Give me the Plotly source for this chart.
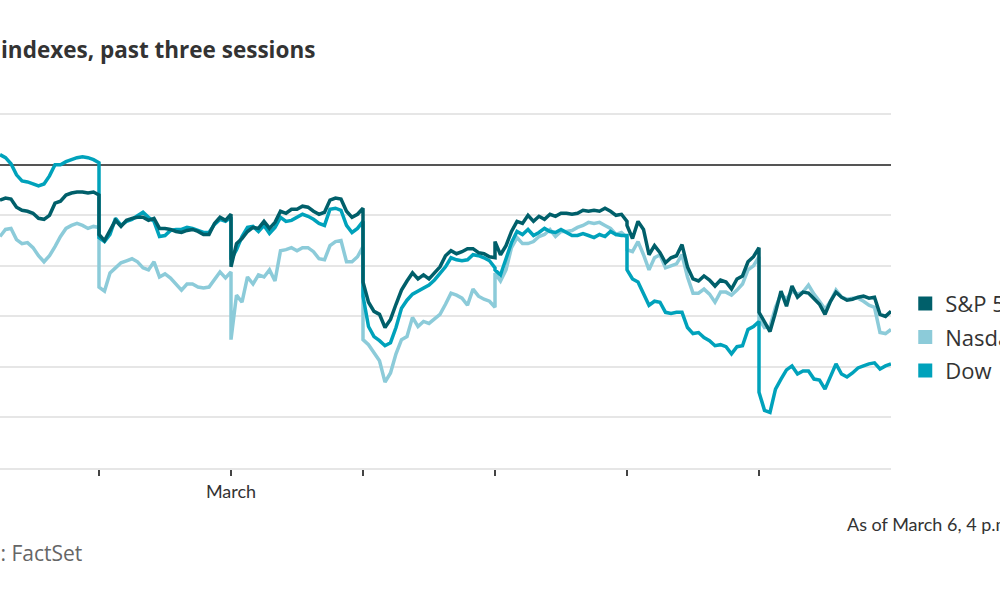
import numpy as np
import plotly.graph_objects as go

# Percent change. First list = tail of the session before the
# first visible tick (last 3/4 of it), then six full sessions (open ... close).
sp_sessions = [
    [-0.35, -0.33, -0.34, -0.42, -0.45, -0.46, -0.48, -0.53, -0.54, -0.50, -0.38, -0.36, -0.30, -0.28, -0.27, -0.27, -0.28, -0.27, -0.30],
    [-0.69, -0.75, -0.65, -0.55, -0.61, -0.55, -0.53, -0.52, -0.52, -0.55, -0.53, -0.63, -0.63, -0.64, -0.66, -0.67, -0.65, -0.64, -0.66, -0.69, -0.69, -0.58, -0.52, -0.55, -0.49],
    [-1.01, -0.78, -0.73, -0.66, -0.62, -0.63, -0.56, -0.63, -0.57, -0.46, -0.48, -0.44, -0.44, -0.41, -0.42, -0.46, -0.49, -0.47, -0.35, -0.33, -0.34, -0.46, -0.52, -0.49, -0.43],
    [-1.16, -1.36, -1.45, -1.48, -1.61, -1.53, -1.38, -1.24, -1.15, -1.07, -1.13, -1.09, -1.13, -1.07, -1.01, -0.90, -0.85, -0.88, -0.86, -0.83, -0.83, -0.87, -0.88, -0.91, -0.92],
    [-0.76, -0.89, -0.80, -0.66, -0.56, -0.58, -0.50, -0.56, -0.51, -0.54, -0.49, -0.51, -0.48, -0.48, -0.49, -0.48, -0.45, -0.46, -0.45, -0.46, -0.43, -0.46, -0.50, -0.49, -0.56],
    [-0.60, -0.73, -0.56, -0.64, -0.89, -0.80, -0.87, -0.97, -0.92, -0.90, -0.79, -1.01, -1.13, -1.15, -1.10, -1.14, -1.20, -1.14, -1.16, -1.23, -1.13, -1.10, -0.96, -0.91, -0.82],
    [-1.46, -1.56, -1.65, -1.46, -1.25, -1.40, -1.20, -1.31, -1.26, -1.27, -1.32, -1.38, -1.48, -1.35, -1.26, -1.31, -1.34, -1.33, -1.31, -1.30, -1.32, -1.31, -1.48, -1.50, -1.45],
]
nasdaq_sessions = [
    [-0.71, -0.64, -0.63, -0.74, -0.78, -0.77, -0.82, -0.90, -0.96, -0.90, -0.81, -0.71, -0.63, -0.60, -0.58, -0.60, -0.63, -0.61, -0.62],
    [-1.21, -1.25, -1.07, -1.02, -0.97, -0.95, -0.93, -0.96, -1.02, -1.04, -0.96, -1.11, -1.08, -1.12, -1.18, -1.24, -1.18, -1.18, -1.21, -1.22, -1.21, -1.14, -1.06, -1.12, -1.06],
    [-1.73, -1.29, -1.36, -1.11, -1.18, -1.09, -1.11, -1.04, -1.15, -0.85, -0.84, -0.82, -0.85, -0.82, -0.82, -0.86, -0.93, -0.94, -0.80, -0.76, -0.75, -0.96, -0.96, -0.91, -0.81],
    [-1.73, -1.78, -1.86, -1.94, -2.15, -2.06, -1.87, -1.73, -1.70, -1.51, -1.60, -1.55, -1.57, -1.52, -1.48, -1.38, -1.27, -1.29, -1.32, -1.39, -1.23, -1.30, -1.33, -1.35, -1.41],
    [-1.07, -1.15, -1.04, -0.82, -0.72, -0.78, -0.78, -0.76, -0.71, -0.69, -0.64, -0.71, -0.66, -0.66, -0.65, -0.62, -0.60, -0.57, -0.58, -0.57, -0.60, -0.63, -0.69, -0.67, -0.72],
    [-0.84, -0.86, -0.76, -0.89, -1.04, -0.92, -0.89, -1.02, -1.00, -0.98, -0.89, -1.11, -1.27, -1.27, -1.23, -1.28, -1.36, -1.26, -1.26, -1.29, -1.24, -1.18, -1.04, -1.00, -0.91],
    [-1.53, -1.61, -1.60, -1.41, -1.28, -1.33, -1.25, -1.28, -1.26, -1.19, -1.28, -1.35, -1.43, -1.35, -1.24, -1.31, -1.33, -1.32, -1.32, -1.35, -1.39, -1.41, -1.66, -1.67, -1.63],
]
dow_sessions = [
    [0.10, 0.07, 0.01, -0.10, -0.16, -0.17, -0.19, -0.21, -0.19, -0.11, 0.00, 0.00, 0.03, 0.05, 0.07, 0.08, 0.07, 0.05, 0.02],
    [-0.72, -0.76, -0.69, -0.53, -0.60, -0.56, -0.54, -0.50, -0.47, -0.52, -0.56, -0.71, -0.70, -0.65, -0.64, -0.64, -0.62, -0.63, -0.65, -0.67, -0.67, -0.59, -0.54, -0.56, -0.52],
    [-0.94, -0.84, -0.71, -0.62, -0.61, -0.66, -0.60, -0.68, -0.62, -0.52, -0.56, -0.55, -0.52, -0.49, -0.51, -0.54, -0.58, -0.60, -0.44, -0.43, -0.45, -0.60, -0.67, -0.63, -0.56],
    [-1.30, -1.60, -1.70, -1.74, -1.79, -1.76, -1.61, -1.42, -1.34, -1.28, -1.25, -1.22, -1.19, -1.14, -1.07, -1.01, -0.92, -0.94, -0.95, -0.94, -0.89, -0.90, -0.92, -0.95, -1.02],
    [-1.04, -1.09, -0.92, -0.77, -0.66, -0.69, -0.64, -0.70, -0.67, -0.63, -0.66, -0.67, -0.64, -0.67, -0.70, -0.70, -0.68, -0.70, -0.72, -0.69, -0.71, -0.66, -0.69, -0.70, -0.70],
    [-1.04, -1.13, -1.16, -1.27, -1.39, -1.35, -1.36, -1.46, -1.47, -1.46, -1.46, -1.61, -1.67, -1.66, -1.71, -1.74, -1.79, -1.78, -1.80, -1.87, -1.80, -1.79, -1.63, -1.60, -1.55],
    [-2.25, -2.43, -2.45, -2.22, -2.12, -2.03, -1.99, -2.07, -2.04, -2.04, -2.12, -2.13, -2.22, -2.10, -1.97, -2.07, -2.10, -2.06, -2.01, -1.99, -1.97, -1.96, -2.02, -1.99, -1.97],
]

series_names = ["S&P 500", "Nasdaq", "Dow"]
series_colors = ["#005f6a", "#8ccbd9", "#00a2bb"]
session_ticks = [0, 1, 2, 3, 4, 5]
session_tick_labels = ["", "March", "", "", "", ""]
visible_start = -0.75
title_text = "indexes, past three sessions"
note_text = "As of March 6, 4 p.m."
source_text = "Source: FactSet"


def session_times(sessions):
    t = []
    for k, vals in enumerate(sessions):
        if k == 0:
            t.extend(np.linspace(visible_start, 0, len(vals)))
        else:
            t.extend(np.linspace(k - 1, k, len(vals)))
    return t


def flat(sessions):
    return [v for s in sessions for v in s]


fig = go.Figure()
data = {"S&P 500": sp_sessions, "Nasdaq": nasdaq_sessions, "Dow": dow_sessions}
draw_order = ["Nasdaq", "Dow", "S&P 500"]
for name in draw_order:
    c = series_colors[series_names.index(name)]
    fig.add_trace(go.Scatter(x=session_times(data[name]), y=flat(data[name]),
                             mode="lines", line=dict(color=c, width=3.5),
                             showlegend=False, hoverinfo="skip"))

for i, name in enumerate(series_names):
    fig.add_trace(go.Scatter(x=[None], y=[None], mode="markers", name=name,
                             marker=dict(symbol="square", size=14, color=series_colors[i]),
                             legendgroup=name, showlegend=True))

fig.update_layout(
    width=1000, height=600,
    margin=dict(l=0, r=109, t=94, b=132, autoexpand=False),
    paper_bgcolor="white", plot_bgcolor="white",
    font=dict(family="Lato", color="#333333"),
    hovermode=False,
    showlegend=True,
    legend=dict(x=1.016, xanchor="left", y=0.35, yanchor="middle",
                font=dict(size=22, color="#333333", family="Open Sans"),
                tracegroupgap=2, itemclick=False, bgcolor="rgba(0,0,0,0)"),
    xaxis=dict(range=[visible_start, 6], tickvals=session_ticks, ticktext=session_tick_labels,
               showgrid=False, zeroline=False, showline=True, linecolor="#e6e6e6", linewidth=2,
               ticks="outside", ticklen=6, tickwidth=2, tickcolor="#444444",
               tickfont=dict(size=18, color="#333333", family="Lato")),
    yaxis=dict(range=[-3.0, 0.7], dtick=0.5, tick0=0, showgrid=True, gridcolor="#e6e6e6",
               gridwidth=2, zeroline=True, zerolinecolor="#555555", zerolinewidth=2,
               showticklabels=False, ticks=""),
    annotations=[
        dict(text=title_text, xref="paper", yref="paper", x=-1 / 891, y=1.118,
             xanchor="left", yanchor="middle", showarrow=False,
             font=dict(size=22.5, color="#333333", family="Open Sans", weight="bold")),
        dict(text=note_text, xref="paper", yref="paper", x=845 / 891, y=-0.15,
             xanchor="left", yanchor="middle", showarrow=False,
             font=dict(size=18, color="#333333", family="Lato")),
        dict(text=source_text, xref="paper", yref="paper", x=84 / 891, y=-0.227,
             xanchor="right", yanchor="middle", showarrow=False,
             font=dict(size=21, color="#666666", family="Open Sans")),
    ],
)

fig.write_html("out.html", config={"displayModeBar": False},
               post_script="document.body.style.margin='0';document.body.style.overflow='hidden';")
